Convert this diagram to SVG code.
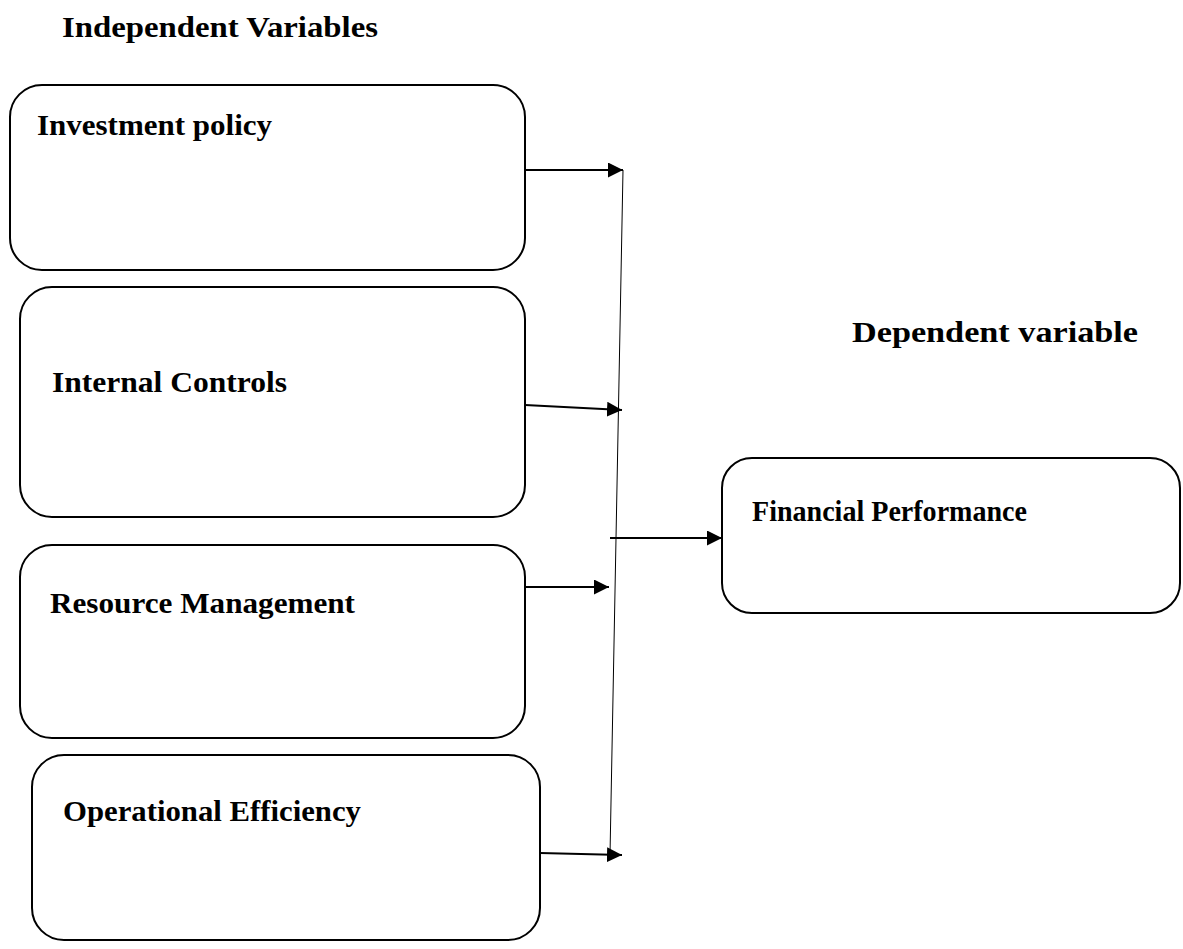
<svg xmlns="http://www.w3.org/2000/svg" width="1183" height="949" viewBox="0 0 1183 949">
<defs>
<style>
.box{fill:#fff;stroke:#000;stroke-width:2}
.t{font-family:"Liberation Serif","Times New Roman",serif;font-weight:bold;font-size:30px;fill:#000}
.c{stroke:#000;stroke-width:2;fill:none}
.v{stroke:#000;stroke-width:1;fill:none}
</style>
<marker id="ah2" markerWidth="15" markerHeight="15" refX="15" refY="7.5" orient="auto" markerUnits="userSpaceOnUse" viewBox="0 0 15 15">
<path d="M0,0 L15,7.5 L0,15 Z" fill="#000"/>
</marker>
</defs>
<text class="t" x="62" y="37" textLength="316" lengthAdjust="spacingAndGlyphs">Independent Variables</text>
<text class="t" x="852" y="342" textLength="286" lengthAdjust="spacingAndGlyphs">Dependent variable</text>
<g id="n1"><rect class="box" x="10" y="85" width="515" height="185" rx="32"/><text class="t" x="37" y="135" textLength="235" lengthAdjust="spacingAndGlyphs">Investment policy</text></g>
<g id="n2"><rect class="box" x="20" y="287" width="505" height="230" rx="32"/><text class="t" x="52" y="392" textLength="235" lengthAdjust="spacingAndGlyphs">Internal Controls</text></g>
<g id="n3"><rect class="box" x="20" y="545" width="505" height="193" rx="32"/><text class="t" x="50" y="613" textLength="305" lengthAdjust="spacingAndGlyphs">Resource Management</text></g>
<g id="n4"><rect class="box" x="32" y="755" width="508" height="185" rx="32"/><text class="t" x="63" y="821" textLength="298" lengthAdjust="spacingAndGlyphs">Operational Efficiency</text></g>
<g id="n5"><rect class="box" x="722" y="458" width="458" height="155" rx="30"/><text class="t" x="752" y="521" style="font-size:29px" textLength="275" lengthAdjust="spacingAndGlyphs">Financial Performance</text></g>
<g id="connectors">
<line class="v" x1="623" y1="170" x2="610" y2="855"/>
<line class="c" x1="525" y1="170" x2="623" y2="170" marker-end="url(#ah2)"/>
<line class="c" x1="525" y1="405" x2="622" y2="410" marker-end="url(#ah2)"/>
<line class="c" x1="610" y1="538" x2="722" y2="538" marker-end="url(#ah2)"/>
<line class="c" x1="525" y1="587" x2="609" y2="587" marker-end="url(#ah2)"/>
<line class="c" x1="540" y1="853" x2="622" y2="855" marker-end="url(#ah2)"/>
</g>
</svg>
